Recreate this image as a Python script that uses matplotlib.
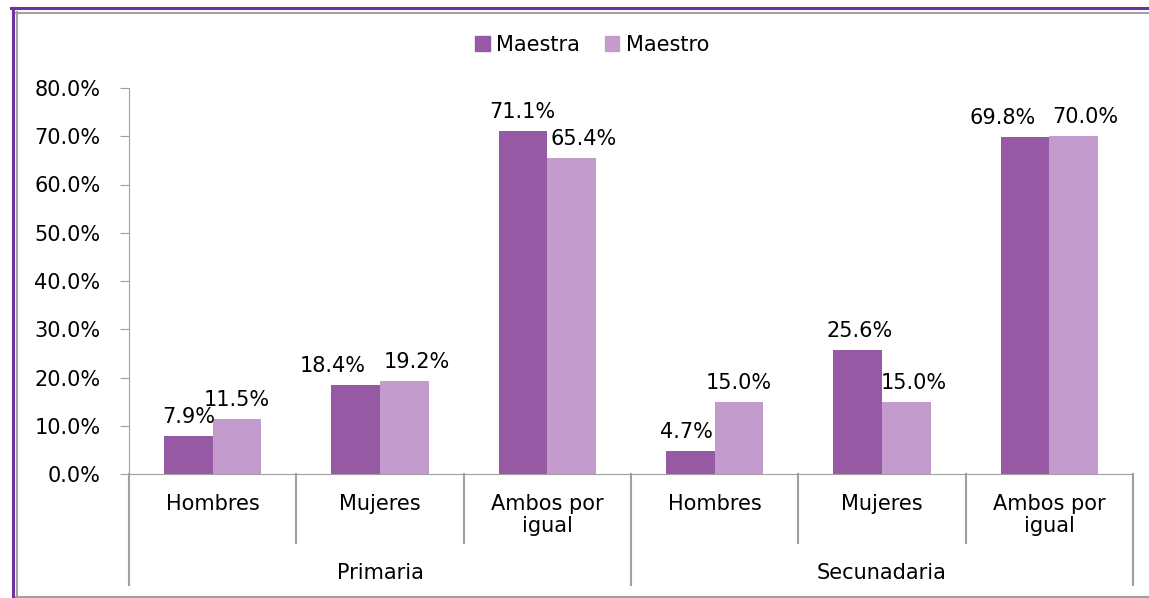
import numpy as np
import matplotlib
matplotlib.use('Agg')
import matplotlib.pyplot as plt
from matplotlib.lines import Line2D
from matplotlib.patches import Patch

# datos
grupos = ['Primaria', 'Secunadaria']
categorias = ['Hombres', 'Mujeres', 'Ambos por\nigual']
maestra = [7.9, 18.4, 71.1, 4.7, 25.6, 69.8]
maestro = [11.5, 19.2, 65.4, 15.0, 15.0, 70.0]
yticks = [0, 10, 20, 30, 40, 50, 60, 70, 80]

# desplazamiento de etiquetas (px) para que no se encimen
dx_maestra = [0, -23, -1, -4, 2, -22]
dx_maestro = [0, 13, 12, 0, 7, 12]

c_maestra = '#9659a3'
c_maestro = '#c39bcc'
gris = '#a0a0a0'
fs = 15

W, H = 1149, 598
fig = plt.figure(figsize=(W/100, H/100), dpi=100)
ax = fig.add_axes([129/W, 1-474/H, (1133-129)/W, (474-88)/H])

n = len(maestra)
x = np.arange(n)
w = 0.29
b1 = ax.bar(x - w/2, maestra, w, color=c_maestra)
b2 = ax.bar(x + w/2, maestro, w, color=c_maestro)

for bars, vals, dxs in [(b1, maestra, dx_maestra), (b2, maestro, dx_maestro)]:
    for b, v, d in zip(bars, vals, dxs):
        ax.annotate('%.1f%%' % v, (b.get_x() + b.get_width()/2, v),
                    xytext=(d, 19), textcoords='offset pixels',
                    ha='center', va='center', fontsize=fs)

ax.set_xlim(-0.5, n - 0.5)
ax.set_ylim(0, 80)
ax.set_yticks(yticks)
ax.set_yticklabels(['%.1f%%' % t for t in yticks], fontsize=fs)
ax.set_xticks([])
for s in ['top', 'right']:
    ax.spines[s].set_visible(False)
ax.spines['left'].set_color(gris)
ax.spines['bottom'].set_color(gris)
ax.tick_params(axis='y', length=6.5, color=gris, pad=14)

# etiquetas de categorias y grupos
trans = ax.get_xaxis_transform()
ah = 474 - 88
for i in range(n):
    ax.text(i, -(494-474)/ah, categorias[i % 3], transform=trans,
            ha='center', va='top', fontsize=fs, linespacing=1.15)
for i in range(n + 1):
    y0 = -(585-474)/ah if i % 3 == 0 else -(543-474)/ah
    ax.plot([i - 0.5, i - 0.5], [0, y0], transform=trans, color=gris,
            lw=1.5, clip_on=False)
for g, nombre in enumerate(grupos):
    ax.text(g*3 + 1, -(573-474)/ah, nombre, transform=trans,
            ha='center', va='center', fontsize=fs)

# leyenda
handles = [Patch(color=c_maestra, label='Maestra'),
           Patch(color=c_maestro, label='Maestro')]
fig.legend(handles=handles, loc='center', bbox_to_anchor=(592/W, 1-45/H),
           ncol=2, frameon=False, fontsize=fs, handlelength=0.7,
           handleheight=0.7, handletextpad=0.3, columnspacing=1.2)

# marco
def fy(y):
    return 1 - y/H
fig.add_artist(Line2D([12.5/W, 12.5/W], [fy(7.5), 0], color='#7030a0', lw=2.2))
fig.add_artist(Line2D([11/W, 1], [fy(7.5), fy(7.5)], color='#7030a0', lw=2.2))
fig.add_artist(Line2D([16.5/W, 16.5/W], [fy(12), fy(597)], color=gris, lw=1.5))
fig.add_artist(Line2D([16/W, 1], [fy(12.5), fy(12.5)], color=gris, lw=1.5))
fig.add_artist(Line2D([16/W, 1], [fy(596.5), fy(596.5)], color=gris, lw=1.5))

fig.savefig('out.png', dpi=100)
